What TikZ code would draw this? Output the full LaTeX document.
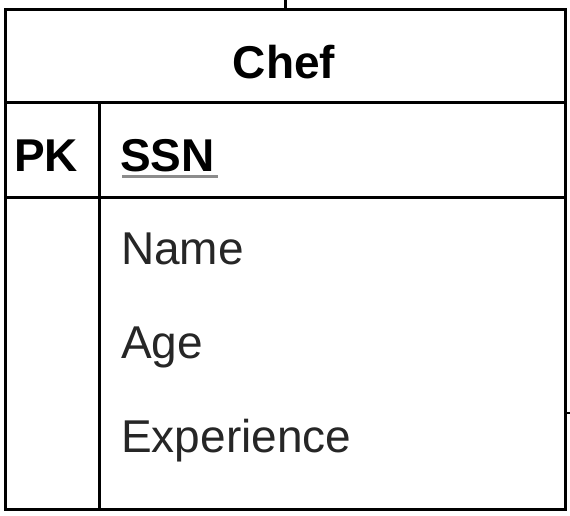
\documentclass[tikz,border=0pt]{standalone}
\usepackage{fontspec}
\setmainfont{Liberation Sans}
\begin{document}
\begin{tikzpicture}[x=1pt,y=-1pt,
  frame/.style={line width=3pt,draw=black},
  title/.style={inner sep=0pt,font=\fontsize{46}{50}\selectfont\bfseries,text=black},
  keytxt/.style={inner sep=0pt,anchor=base west,font=\fontsize{46}{50}\selectfont\bfseries,text=black},
  attr/.style={inner sep=0pt,anchor=base west,font=\fontsize{46}{50}\selectfont,text=black!85}]
  % page size
  \useasboundingbox (0,0) rectangle (570,516);
  \fill[white] (0,0) rectangle (570,516);

  % entity box with its row lines
  \draw[frame] (5,10) rectangle (565,509);
  \draw[frame] (5,103) -- (565,103);
  \draw[frame] (5,197) -- (565,197);
  \draw[frame] (99,103) -- (99,509);

  % relationship line leaving the top of the entity
  \coordinate (top) at (285,10);
  \coordinate (up) at (285,-2);
  \draw[frame] (top) -- (up);
  % stub of a neighbouring line on the right
  \draw[line width=2pt] (565,413) -- (571,413);

  % title
  \node[title,anchor=base] (chef) at (284,79) {Chef};

  % primary key row
  \node[keytxt] (pk) at (14,171) {PK};
  \node[keytxt] (ssn) at (120,171) {SSN};
  \draw[line width=3pt,draw=black!45] (ssn.base west) ++(2,5.5) -- ++(96,0);

  % attributes
  \node[attr] (name) at (121,264) {Name};
  \node[attr] (age) at (121,358) {Age};
  \node[attr] (exp) at (121,452) {Experience};
\end{tikzpicture}
\end{document}
